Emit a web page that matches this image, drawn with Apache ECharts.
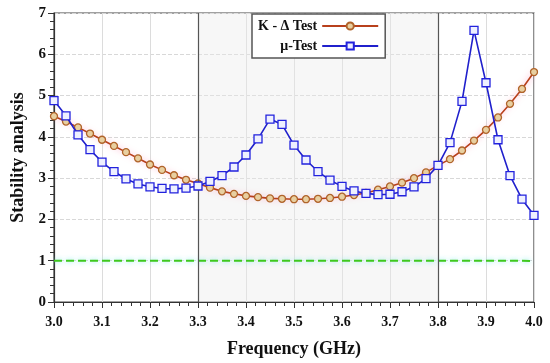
<!DOCTYPE html>
<html><head><meta charset="utf-8">
<script src="https://cdn.jsdelivr.net/npm/echarts@6/dist/echarts.min.js"></script>
<style>html,body{margin:0;padding:0;background:#fff}#c{width:550px;height:363px}</style>
</head><body><div id="c"></div>
<script>
const freq = [3.000,3.025,3.050,3.075,3.100,3.125,3.150,3.175,3.200,3.225,3.250,3.275,3.300,3.325,3.350,3.375,3.400,3.425,3.450,3.475,3.500,3.525,3.550,3.575,3.600,3.625,3.650,3.675,3.700,3.725,3.750,3.775,3.800,3.825,3.850,3.875,3.900,3.925,3.950,3.975,4.000];
const kDelta = [4.50,4.37,4.23,4.08,3.93,3.78,3.63,3.48,3.33,3.20,3.07,2.96,2.87,2.77,2.68,2.62,2.57,2.54,2.51,2.50,2.49,2.49,2.50,2.52,2.55,2.59,2.64,2.72,2.80,2.89,3.00,3.14,3.31,3.46,3.67,3.91,4.17,4.47,4.80,5.16,5.57];
const muTest = [4.88,4.51,4.05,3.69,3.39,3.16,2.98,2.86,2.79,2.75,2.74,2.76,2.81,2.92,3.06,3.27,3.56,3.95,4.43,4.30,3.80,3.44,3.16,2.95,2.80,2.69,2.63,2.60,2.61,2.67,2.79,2.99,3.31,3.86,4.86,6.58,5.31,3.93,3.06,2.49,2.10];
const unity = [1.00,1.00,1.00,1.00,1.00,1.00,1.00,1.00,1.00,1.00,1.00,1.00,1.00,1.00,1.00,1.00,1.00,1.00,1.00,1.00,1.00,1.00,1.00,1.00,1.00,1.00,1.00,1.00,1.00,1.00,1.00,1.00,1.00,1.00,1.00,1.00,1.00,1.00,1.00,1.00,0.99];
const shadeBand = [3.3, 3.8];
const seriesNames = ['K - \u0394 Test', '\u03bc-Test'];

const pairs = (ys) => freq.map((f, i) => [f, ys[i]]);
const serif = '"Liberation Serif","Times New Roman",serif';
const chart = echarts.init(document.getElementById('c'));
chart.setOption({
  animation: false,
  grid: {left: 54, right: 16, top: 13, bottom: 61, show: true, borderColor: '#444', borderWidth: 1.2, backgroundColor: '#fff'},
  legend: {
    data: seriesNames, orient: 'vertical', left: 252, top: 14, align: 'right',
    itemWidth: 56, itemHeight: 9, itemGap: 6,
    backgroundColor: '#fff', borderColor: '#555', borderWidth: 1.5, borderRadius: 0,
    padding: [5, 6, 5, 6],
    textStyle: {fontFamily: serif, fontWeight: 'bold', fontSize: 14, color: '#111'}
  },
  xAxis: {
    type: 'value', min: 3, max: 4, interval: 0.1,
    name: 'Frequency (GHz)', nameLocation: 'middle', nameGap: 38,
    nameTextStyle: {fontFamily: serif, fontWeight: 'bold', fontSize: 18, color: '#111'},
    axisLine: {lineStyle: {color: '#333', width: 1.2}},
    axisTick: {length: 6, lineStyle: {color: '#333'}},
    minorTick: {show: true, splitNumber: 5, length: 4, lineStyle: {color: '#333'}},
    axisLabel: {fontFamily: serif, fontWeight: 'bold', fontSize: 14, color: '#111', margin: 13, formatter: v => v.toFixed(1)},
    splitLine: {show: true, lineStyle: {color: '#dcdcdc', width: 1}}
  },
  yAxis: {
    type: 'value', min: 0, max: 7, interval: 1,
    name: 'Stability analysis', nameLocation: 'middle', nameGap: 26,
    nameTextStyle: {fontFamily: serif, fontWeight: 'bold', fontSize: 18, color: '#111'},
    axisLine: {show: true, lineStyle: {color: '#333', width: 1.2}},
    axisTick: {show: true, length: 6, lineStyle: {color: '#333'}},
    minorTick: {show: true, splitNumber: 5, length: 4, lineStyle: {color: '#333'}},
    axisLabel: {fontFamily: serif, fontWeight: 'bold', fontSize: 15, color: '#111', margin: 8},
    splitLine: {show: true, lineStyle: {color: '#d8d8d8', type: 'dashed', width: 1}}
  },
  series: [
    {
      name: 'band', type: 'line', data: [], silent: true,
      markArea: {silent: true, itemStyle: {color: 'rgba(235,235,235,0.4)'}, data: [[{xAxis: shadeBand[0]}, {xAxis: shadeBand[1]}]]},
      markLine: {silent: true, symbol: 'none', label: {show: false}, lineStyle: {color: '#555', type: 'solid', width: 1.2},
        data: [{xAxis: shadeBand[0]}, {xAxis: shadeBand[1]}]}
    },
    {
      name: 'unity', type: 'line', data: pairs(unity), showSymbol: false, z: 3,
      lineStyle: {color: '#3fc81e', type: 'dashed', width: 2, shadowColor: 'rgba(120,235,235,0.9)', shadowBlur: 5}
    },
    {
      name: seriesNames[0], type: 'line', data: pairs(kDelta), z: 4,
      symbol: 'circle', symbolSize: 7,
      lineStyle: {color: '#b8401c', width: 1.6, shadowColor: 'rgba(255,130,170,0.75)', shadowBlur: 6},
      itemStyle: {color: '#e8cfa0', borderColor: '#b0642a', borderWidth: 1.3}
    },
    {
      name: seriesNames[1], type: 'line', data: pairs(muTest), z: 5,
      symbol: 'rect', symbolSize: 8,
      lineStyle: {color: '#2020cc', width: 1.6},
      itemStyle: {color: '#eef0ff', borderColor: '#2222dd', borderWidth: 1.3}
    }
  ]
});
</script></body></html>
